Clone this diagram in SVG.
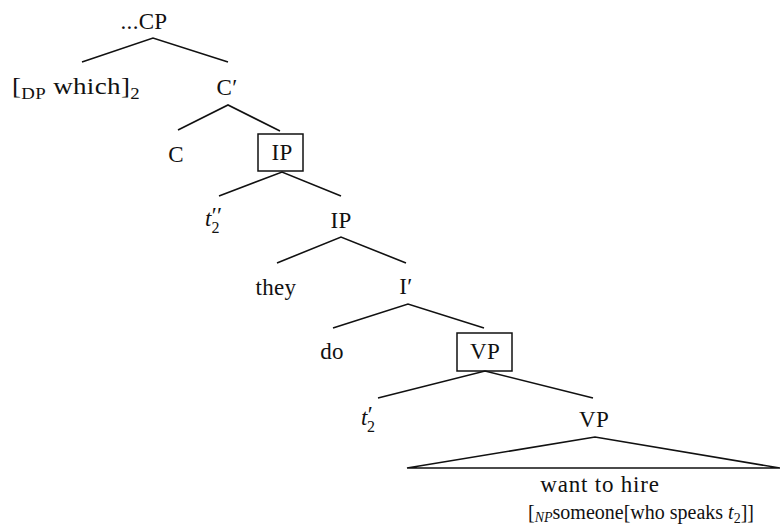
<svg xmlns="http://www.w3.org/2000/svg" width="780" height="530" viewBox="0 0 780 530">
<style>
text{font-family:"Liberation Serif","Times New Roman",serif;font-size:23px;fill:#111;letter-spacing:0.3px;}
.m{text-anchor:middle;}
.s{font-size:16px;}
.i{font-style:italic;}
.e{stroke:#111;stroke-width:1.6;fill:none;}
.box{stroke:#111;stroke-width:1.5;fill:none;}
</style>
<rect width="780" height="530" fill="#fff"/>
<g id="connectors">
<polyline class="e" points="82,62 153,38 228,62"/>
<polyline class="e" points="178,130 228,105 280,131"/>
<polyline class="e" points="219,196 282,172 341,196"/>
<polyline class="e" points="277,263 341,237 406,263"/>
<polyline class="e" points="333,328 408,304 484,328"/>
<polyline class="e" points="378,398 485,371 593,398"/>
<polygon class="e" points="407,468 595,437 780,468"/>
</g>
<g id="CP"><text class="m" x="144" y="29">...CP</text></g>
<g id="DP"><text x="12" y="94" textLength="128" lengthAdjust="spacingAndGlyphs">[<tspan class="s" dy="5">DP</tspan><tspan dy="-5"> which]</tspan><tspan class="s" dy="5">2</tspan></text></g>
<g id="Cbar"><text class="m" x="227" y="95">C′</text></g>
<g id="C"><text class="m" x="176" y="162">C</text></g>
<g id="IPbox"><rect class="box" x="258" y="134" width="45" height="37"/><text class="m" x="282" y="160">IP</text></g>
<g id="t2pp"><text x="205" y="226"><tspan class="i">t</tspan><tspan dy="-3">′′</tspan><tspan class="s" dx="-11" dy="10">2</tspan></text></g>
<g id="IP2"><text class="m" x="341" y="228">IP</text></g>
<g id="they"><text class="m" x="276" y="295">they</text></g>
<g id="Ibar"><text class="m" x="406" y="294">I′</text></g>
<g id="do"><text class="m" x="332" y="359">do</text></g>
<g id="VPbox"><rect class="box" x="457" y="333" width="55" height="38"/><text class="m" x="485" y="359">VP</text></g>
<g id="t2p"><text x="361" y="425"><tspan class="i">t</tspan><tspan dy="-3">′</tspan><tspan class="s" dx="-6" dy="10">2</tspan></text></g>
<g id="VP2"><text class="m" x="594" y="427">VP</text></g>
<g id="yield">
<text class="m" x="600" y="492" style="letter-spacing:0.8px">want to hire</text>
<text x="528" y="519" style="font-size:20px;letter-spacing:0">[<tspan class="i" style="font-size:14px" dy="3">NP</tspan><tspan dy="-3">someone[who speaks </tspan><tspan class="i">t</tspan><tspan style="font-size:14px" dy="4">2</tspan><tspan dy="-4">]]</tspan></text>
</g>
</svg>
